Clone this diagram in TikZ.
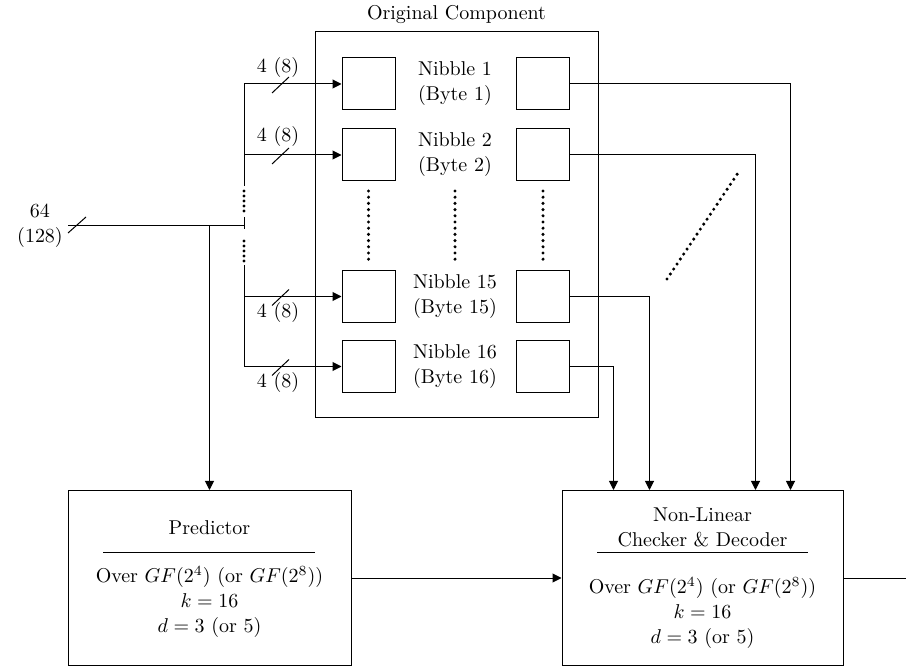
\documentclass[tikz,border=0pt]{standalone}
\usepackage{tikz}
\usetikzlibrary{arrows.meta,positioning,calc}
\tikzset{
  cell/.style={rectangle, draw, line width=0.5pt, minimum width=26.5pt, minimum height=26pt, inner sep=0pt},
  blk/.style={rectangle, draw, line width=0.5pt, minimum width=#1, minimum height=87.5pt, inner sep=0pt},
  arr/.style={-{Triangle[length=4.5pt,width=4.5pt]}, line width=0.5pt},
  wire/.style={line width=0.5pt},
  dotrow/.style={line width=1.7pt, line cap=round, dash pattern=on 0pt off #1},
  dotrow/.default=3.1pt,
  txt/.style={align=center, inner sep=0pt, font=\fontsize{10}{12.5}\selectfont},
}

\begin{document}
\begin{tikzpicture}[x=0.5pt,y=-0.5pt]
  \useasboundingbox (0,0) rectangle (906,668);
  % original component and its nibbles
  \node[draw, line width=0.5pt, minimum width=141.5pt, minimum height=193pt, inner sep=0pt,
        label={[txt, label distance=3.5pt]above:Original Component}] (orig) at (456.5,225) {};
  \node[cell] (l1) at (368.5,84) {};
  \node[cell] (r1) at (543,84) {};
  \node[txt] (n1) at (455,84) {Nibble 1\\(Byte 1)};
  \node[cell] (l2) at (368.5,155) {};
  \node[cell] (r2) at (543,155) {};
  \node[txt] (n2) at (455,155) {Nibble 2\\(Byte 2)};
  \node[cell] (l15) at (368.5,296.5) {};
  \node[cell] (r15) at (543,296.5) {};
  \node[txt] (n15) at (455,296.5) {Nibble 15\\(Byte 15)};
  \node[cell] (l16) at (368.5,366.5) {};
  \node[cell] (r16) at (543,366.5) {};
  \node[txt] (n16) at (455,366.5) {Nibble 16\\(Byte 16)};
  \draw[dotrow] (368.5,191) -- (368.5,261);
  \draw[dotrow] (455,191) -- (455,261);
  \draw[dotrow] (543,191) -- (543,261);

  % input bus
  \coordinate (in) at (68,226);
  \coordinate (br) at (209.5,226);
  \coordinate (bj) at (244,226);
  \coordinate (b1) at (244,84);
  \coordinate (b2) at (244,155);
  \coordinate (b15) at (244,296.5);
  \coordinate (b16) at (244,366.5);
  \coordinate (bA) at (244,186);
  \coordinate (bB) at (244,217);
  \coordinate (bC) at (244,229);
  \coordinate (bD) at (244,265);
  \node[txt] (inw) at (40,226) {64\\(128)};
  \draw[wire] (in) -- (bj);
  \draw[wire] ($(in)+(0,7)$) -- ($(in)+(18,-9)$);
  \draw[wire] (b1) -- (bA);
  \draw[dotrow=2.5pt] (244,191) -- (244,211);
  \draw[wire] (bB) -- (bC);
  \draw[dotrow=2.5pt] (244,241) -- (244,261);
  \draw[wire] (bD) -- (b16);
  \draw[arr] (b1) -- (l1);
  \draw[arr] (b2) -- (l2);
  \draw[arr] (b15) -- (l15);
  \draw[arr] (b16) -- (l16);
  \draw[wire] ($(b1)+(28,9)$) -- ($(b1)+(45,-7)$);
  \draw[wire] ($(b2)+(28,9)$) -- ($(b2)+(45,-7)$);
  \draw[wire] ($(b15)+(28,9)$) -- ($(b15)+(45,-7)$);
  \draw[wire] ($(b16)+(28,9)$) -- ($(b16)+(45,-7)$);
  \node[txt] (w1) at (278,68) {4 (8)};
  \node[txt] (w2) at (278,137) {4 (8)};
  \node[txt] (w15) at (278,313) {4 (8)};
  \node[txt] (w16) at (278,383) {4 (8)};

  % predictor
  \node[blk=141.5pt] (pred) at (209.5,578) {};
  \node[txt] (pt) at (209.5,528) {Predictor};
  \draw[wire] (103,552) -- (315,552);
  \node[txt] (pb) at (209.5,602) {Over $GF(2^4)$ (or $GF(2^8)$)\\$k=16$\\$d=3$ (or 5)};
  \draw[arr] (br) -- (pred);

  % checker
  \node[blk=140.5pt] (chk) at (702.5,578) {};
  \node[txt] (ct) at (702.5,527.5) {Non-Linear\\Checker \& Decoder};
  \draw[wire] (597,552) -- (808,552);
  \node[txt] (cb) at (702.5,613) {Over $GF(2^4)$ (or $GF(2^8)$)\\$k=16$\\$d=3$ (or 5)};
  \draw[arr] (pred) -- (chk);
  \coordinate (out) at (906,578);
  \draw[wire] (chk) -- (out);

  % outputs of the nibbles
  \draw[arr] (r1.east) -| ($(chk.north west)+(229,0)$);
  \draw[arr] (r2.east) -| ($(chk.north west)+(194,0)$);
  \draw[arr] (r15.east) -| ($(chk.north west)+(88,0)$);
  \draw[arr] (r16.east) -| ($(chk.north west)+(52,0)$);
  \draw[dotrow=3pt] (667,279) -- (738,173);
\end{tikzpicture}
\end{document}
